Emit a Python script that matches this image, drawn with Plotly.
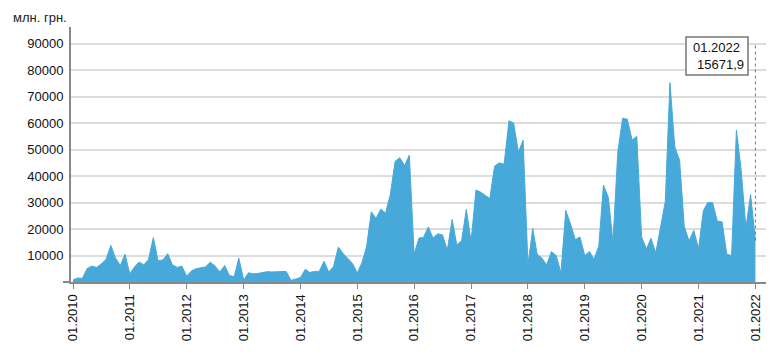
import pandas as pd
import plotly.graph_objects as go

# Monthly values, млн. грн., 01.2010 .. 01.2022
values = [
    800, 1500, 1300, 5000, 6000, 5500, 6800, 8500, 13800, 9000, 6200, 10500,      # 2010
    3000, 5800, 7500, 6500, 8500, 16800, 8000, 8300, 10700, 6500, 5500, 6000,     # 2011
    2200, 4200, 5000, 5500, 5700, 7500, 6000, 3800, 6200, 2500, 2000, 9000,       # 2012
    700, 3500, 3100, 3200, 3600, 3900, 3800, 3800, 4000, 4000, 600, 1200,         # 2013
    1700, 4800, 3600, 4000, 4000, 7800, 3800, 5800, 13200, 10800, 8800, 7000,     # 2014
    3400, 7500, 13200, 26500, 24000, 27500, 26000, 33000, 45600, 46900, 44000, 47900,  # 2015
    10500, 16600, 16800, 20800, 16600, 18200, 17800, 12000, 23600, 14000, 15600, 27400,  # 2016
    15300, 34700, 34000, 32700, 31500, 43800, 45000, 44500, 60900, 60000, 49000, 53600,  # 2017
    6500, 20200, 10500, 9000, 6500, 11500, 10000, 3500, 27000, 22000, 16000, 17000,  # 2018
    10000, 11500, 8500, 13500, 36600, 32000, 15000, 49000, 61800, 61500, 53600, 55000,  # 2019
    17000, 12500, 16500, 11000, 20000, 30300, 75300, 51000, 46000, 21000, 15500, 19500,  # 2020
    12600, 27000, 30000, 30000, 23000, 22700, 10500, 10000, 57400, 42500, 20500, 33000,  # 2021
    15671.9,                                                                      # 2022
]
dates = pd.date_range("2010-01-01", periods=len(values), freq="MS")

y_ticks = [10000, 20000, 30000, 40000, 50000, 60000, 70000, 80000, 90000]
unit_label = "млн. грн."
last_label = "01.2022"
last_value_text = "15671,9"

FONT = "Liberation Sans, Arial, sans-serif"
AREA = "#47a9d9"

fig = go.Figure()
fig.add_trace(go.Scatter(
    x=dates, y=values, mode="lines", fill="tozeroy",
    line=dict(color=AREA, width=1), fillcolor=AREA,
    hoverinfo="skip", showlegend=False,
))

# dotted marker line at the last point
fig.add_shape(type="line", xref="x", yref="y",
              x0=dates[-1], x1=dates[-1], y0=values[-1], y1=90000,
              line=dict(color="#777", width=1, dash="dot"))

# small extension of x axis to the left of y axis
fig.add_shape(type="line", xref="paper", yref="paper",
              x0=-8 / 695, x1=0, y0=0, y1=0,
              line=dict(color="#888", width=2))

# tooltip box
fig.add_shape(type="rect", xref="paper", yref="paper",
              x0=(686 - 71) / 695, x1=(748 - 71) / 695,
              y0=(282 - 75) / 255, y1=(282 - 37) / 255,
              line=dict(color="#777", width=1.5), fillcolor="white")
fig.add_annotation(xref="paper", yref="paper",
                   x=(691 - 71) / 695, y=(282 - 47) / 255,
                   xanchor="left", yanchor="middle", showarrow=False,
                   text=last_label, font=dict(family=FONT, size=13, color="#111"))
fig.add_annotation(xref="paper", yref="paper",
                   x=(746 - 71) / 695, y=(282 - 64) / 255,
                   xanchor="right", yanchor="middle", showarrow=False,
                   text=last_value_text, font=dict(family=FONT, size=13, color="#111"))

fig.add_annotation(xref="paper", yref="paper",
                   x=(11 - 71) / 695, y=(282 - 18) / 255,
                   xanchor="left", yanchor="middle", showarrow=False,
                   text=unit_label, font=dict(family=FONT, size=13, color="#222"))

fig.update_layout(
    width=781, height=358,
    margin=dict(l=71, r=15, t=27, b=76),
    paper_bgcolor="white", plot_bgcolor="white",
    font=dict(family=FONT, size=13, color="#111"),
    xaxis=dict(
        type="date",
        range=["2009-12-19", "2022-03-10"],
        tick0="2010-01-01", dtick="M12", tickformat="%m.%Y",
        tickangle=-90, ticks="outside", ticklen=5, tickcolor="#888", tickwidth=1,
        showgrid=False, showline=True, linecolor="#888", linewidth=2,
        zeroline=False, tickfont=dict(family=FONT, size=13, color="#111"),
    ),
    yaxis=dict(
        range=[0, 96300],
        tickvals=y_ticks, ticktext=[str(v) for v in y_ticks],
        showgrid=True, gridcolor="#dddddd", gridwidth=1.5,
        showline=True, linecolor="#888", linewidth=2,
        zeroline=False, ticks="", ticklabelstandoff=3,
        tickfont=dict(family=FONT, size=13, color="#111"),
    ),
)

fig.write_html("out.html",
               config={"displayModeBar": False},
               post_script="document.body.style.margin='0';document.body.style.padding='0';")
